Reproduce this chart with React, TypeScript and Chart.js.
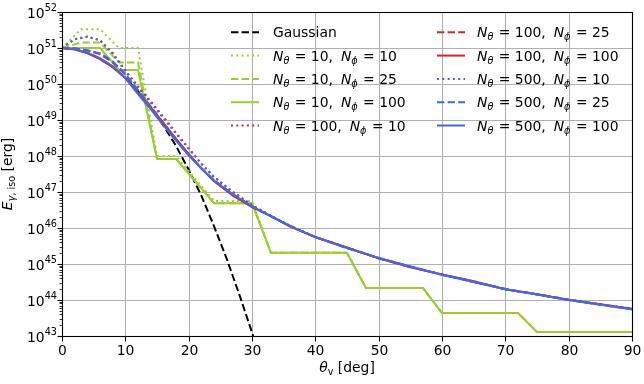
import React, { useEffect, useRef } from 'react';
import { Chart, registerables } from 'chart.js';
Chart.register(...registerables);

// ---------------- data (values are log10 of E_iso in erg) ----------------
const THETA_GAUSS = [0, 2, 4, 6, 8, 10, 12, 14, 16, 18, 20, 22, 24, 26, 28, 30, 31];
const LOGE_GAUSS = [51.0, 50.97, 50.87, 50.7, 50.47, 50.17, 49.8, 49.35, 48.85, 48.28, 47.62, 46.9, 46.05, 45.15, 44.15, 43.1, 42.55];

const THETA_N10 = [0, 3, 6, 9, 12, 15, 18, 24, 30, 33, 45, 48, 57, 60, 72, 75, 90];
const LOGE_N10_P10 = [51.0, 51.52, 51.52, 51.0, 51.0, 48.0, 48.0, 46.75, 46.75, 45.31, 45.31, 44.33, 44.33, 43.64, 43.64, 43.11, 43.11];
const LOGE_N10_P25 = [51.0, 51.15, 51.15, 50.6, 50.6, 47.92, 47.92, 46.69, 46.69, 45.31, 45.31, 44.33, 44.33, 43.64, 43.64, 43.11, 43.11];
const LOGE_N10_P100 = [51.0, 51.0, 51.0, 50.39, 50.39, 47.92, 47.92, 46.69, 46.69, 45.31, 45.31, 44.33, 44.33, 43.64, 43.64, 43.11, 43.11];

const THETA_FINE = [0, 2, 4, 6, 8, 10, 12, 14, 16, 18, 20, 22, 24, 27, 30, 33, 36, 40, 45, 50, 55, 60, 65, 70, 75, 80, 85, 90];
const LOGE_N100_P10 = [51.0, 51.24, 51.31, 51.21, 50.86, 50.38, 49.94, 49.52, 49.09, 48.65, 48.22, 47.79, 47.42, 47.0, 46.63, 46.34, 46.05, 45.75, 45.46, 45.16, 44.91, 44.71, 44.52, 44.3, 44.16, 44.01, 43.88, 43.76];
const LOGE_N100_P25 = [51.0, 50.98, 50.93, 50.83, 50.6, 50.26, 49.82, 49.38, 48.92, 48.47, 48.05, 47.66, 47.31, 46.91, 46.59, 46.33, 46.05, 45.75, 45.45, 45.16, 44.92, 44.71, 44.51, 44.3, 44.16, 44.01, 43.88, 43.75];
const LOGE_N100_P100 = [51.0, 50.96, 50.85, 50.69, 50.47, 50.16, 49.76, 49.36, 48.92, 48.48, 48.06, 47.66, 47.3, 46.9, 46.58, 46.33, 46.04, 45.75, 45.46, 45.16, 44.91, 44.71, 44.52, 44.3, 44.16, 44.01, 43.88, 43.76];
const LOGE_N500_P10 = [51.0, 51.25, 51.32, 51.22, 50.85, 50.35, 49.9, 49.48, 49.05, 48.62, 48.2, 47.78, 47.42, 47.0, 46.64, 46.34, 46.07, 45.75, 45.45, 45.17, 44.93, 44.7, 44.5, 44.3, 44.15, 44.0, 43.87, 43.74];
const LOGE_N500_P25 = [51.0, 50.99, 50.94, 50.85, 50.63, 50.28, 49.82, 49.35, 48.88, 48.44, 48.03, 47.66, 47.33, 46.94, 46.61, 46.33, 46.06, 45.75, 45.44, 45.17, 44.93, 44.7, 44.5, 44.31, 44.15, 44.0, 43.87, 43.74];
const LOGE_N500_P100 = [51.0, 50.97, 50.87, 50.72, 50.5, 50.17, 49.72, 49.3, 48.86, 48.43, 48.02, 47.65, 47.32, 46.93, 46.6, 46.32, 46.06, 45.74, 45.44, 45.17, 44.93, 44.7, 44.5, 44.3, 44.15, 44.0, 43.87, 43.74];

const X_TICKS = [0, 10, 20, 30, 40, 50, 60, 70, 80, 90];
const Y_DECADES = [43, 44, 45, 46, 47, 48, 49, 50, 51, 52];

const PHI_VALUES = ['10', '25', '100'];

// ---------------- styles ----------------
const GREEN = '#9acd32';
const RED = '#d62728';
const BLUE = '#4169e1';
const LW = 2;
const DASHED = [7.4, 3.2];
const DOTTED = [2, 3.3];
const FAM = '"DejaVu Sans", sans-serif';
const REG = `13.9px ${FAM}`;
const ITA = `italic 13.9px ${FAM}`;
const SUB = `9.7px ${FAM}`;
const SUBI = `italic 9.7px ${FAM}`;

type Part = { t: string; f: string; dy?: number; dx?: number };

function richWidth(ctx: CanvasRenderingContext2D, parts: Part[]) {
  let w = 0;
  for (const p of parts) {
    ctx.font = p.f;
    w += ctx.measureText(p.t).width + (p.dx || 0);
  }
  return w;
}

function drawRich(ctx: CanvasRenderingContext2D, parts: Part[], x: number, y: number, align: 'left' | 'center' | 'right') {
  const w = richWidth(ctx, parts);
  let cx = align === 'left' ? x : align === 'center' ? x - w / 2 : x - w;
  ctx.textAlign = 'left';
  ctx.textBaseline = 'alphabetic';
  for (const p of parts) {
    ctx.font = p.f;
    cx += p.dx || 0;
    ctx.fillText(p.t, cx, y + (p.dy || 0));
    cx += ctx.measureText(p.t).width;
  }
}

function nLabel(nt: string, np: string): Part[] {
  return [
    { t: 'N', f: ITA },
    { t: 'θ', f: SUBI, dy: 3 },
    { t: ' = ' + nt + ',', f: REG, dx: 1 },
    { t: 'N', f: ITA, dx: 8 },
    { t: 'ϕ', f: SUBI, dy: 3 },
    { t: ' = ' + np, f: REG, dx: 1 },
  ];
}

type Series = { label: Part[]; theta: number[]; logE: number[]; color: string; dash: number[] };

function buildSeries(): Series[] {
  const dashes = [DOTTED, DASHED, []];
  const n10 = [LOGE_N10_P10, LOGE_N10_P25, LOGE_N10_P100];
  const n100 = [LOGE_N100_P10, LOGE_N100_P25, LOGE_N100_P100];
  const n500 = [LOGE_N500_P10, LOGE_N500_P25, LOGE_N500_P100];
  const s: Series[] = [
    { label: [{ t: 'Gaussian', f: REG }], theta: THETA_GAUSS, logE: LOGE_GAUSS, color: '#000000', dash: DASHED },
  ];
  PHI_VALUES.forEach((p, i) => s.push({ label: nLabel('10', p), theta: THETA_N10, logE: n10[i], color: GREEN, dash: dashes[i] }));
  PHI_VALUES.forEach((p, i) => s.push({ label: nLabel('100', p), theta: THETA_FINE, logE: n100[i], color: RED, dash: dashes[i] }));
  PHI_VALUES.forEach((p, i) => s.push({ label: nLabel('500', p), theta: THETA_FINE, logE: n500[i], color: BLUE, dash: dashes[i] }));
  return s;
}

export default function App() {
  const ref = useRef<HTMLCanvasElement | null>(null);

  useEffect(() => {
    const series = buildSeries();
    const datasets = series.map((s, i) => ({
      label: 's' + i,
      data: s.theta.map((t, j) => ({ x: t, y: Math.pow(10, s.logE[j]) })),
      borderColor: s.color,
      backgroundColor: s.color,
      borderWidth: LW,
      borderDash: s.dash,
      borderJoinStyle: 'round' as const,
      pointRadius: 0,
      tension: 0,
      fill: false,
      order: 100 - i,
    }));

    const plugin = {
      id: 'mpl',
      beforeDatasetsDraw(chart: any) {
        const { ctx, chartArea: a, scales } = chart;
        ctx.save();
        ctx.strokeStyle = '#b0b0b0';
        ctx.lineWidth = 1.1;
        for (const v of X_TICKS) {
          const px = Math.round(scales.x.getPixelForValue(v)) + 0.5;
          ctx.beginPath();
          ctx.moveTo(px, a.top);
          ctx.lineTo(px, a.bottom);
          ctx.stroke();
        }
        for (const e of Y_DECADES) {
          const py = Math.round(scales.y.getPixelForValue(Math.pow(10, e))) + 0.5;
          ctx.beginPath();
          ctx.moveTo(a.left, py);
          ctx.lineTo(a.right, py);
          ctx.stroke();
        }
        ctx.restore();
      },
      afterDraw(chart: any) {
        const { ctx, chartArea: a, scales } = chart;
        const L = Math.round(a.left) + 0.5;
        const R = Math.round(a.right) + 0.5;
        const T = Math.round(a.top) + 0.5;
        const B = Math.round(a.bottom) + 0.5;
        ctx.save();
        // spines
        ctx.strokeStyle = '#000';
        ctx.lineWidth = 1.1;
        ctx.strokeRect(L, T, R - L, B - T);
        // x ticks
        ctx.fillStyle = '#000';
        for (const v of X_TICKS) {
          const px = Math.round(scales.x.getPixelForValue(v)) + 0.5;
          ctx.beginPath();
          ctx.moveTo(px, B);
          ctx.lineTo(px, B + 5);
          ctx.stroke();
          ctx.font = REG;
          ctx.textAlign = 'center';
          ctx.textBaseline = 'alphabetic';
          ctx.fillText(String(v), px, 354.5);
        }
        // y ticks
        for (const e of Y_DECADES) {
          const py = Math.round(scales.y.getPixelForValue(Math.pow(10, e))) + 0.5;
          ctx.lineWidth = 1.1;
          ctx.beginPath();
          ctx.moveTo(L - 5, py);
          ctx.lineTo(L, py);
          ctx.stroke();
          drawRich(ctx, [{ t: '10', f: REG }, { t: String(e), f: SUB, dy: -6.5 }], 57, py + 5, 'right');
          if (e < 52) {
            ctx.lineWidth = 0.8;
            for (let k = 2; k <= 9; k++) {
              const pm = Math.round(scales.y.getPixelForValue(k * Math.pow(10, e))) + 0.5;
              ctx.beginPath();
              ctx.moveTo(L - 3, pm);
              ctx.lineTo(L, pm);
              ctx.stroke();
            }
          }
        }
        // axis titles
        drawRich(ctx, [
          { t: 'θ', f: ITA },
          { t: 'v', f: SUB, dy: 3 },
          { t: ' [deg]', f: REG },
        ], (a.left + a.right) / 2, 372, 'center');
        ctx.save();
        ctx.translate(12, (a.top + a.bottom) / 2);
        ctx.rotate(-Math.PI / 2);
        drawRich(ctx, [
          { t: 'E', f: ITA },
          { t: 'γ', f: SUBI, dy: 3 },
          { t: ', iso', f: SUB, dy: 3 },
          { t: ' [erg]', f: REG },
        ], 0, 0, 'center');
        ctx.restore();
        // legend
        const cols = [{ hx: 231, tx: 273 }, { hx: 437, tx: 477 }];
        series.forEach((s, i) => {
          const col = cols[Math.floor(i / 5)];
          const row = i % 5;
          const cy = 32.3 + row * 23.3;
          ctx.strokeStyle = s.color;
          ctx.lineWidth = LW;
          ctx.setLineDash(s.dash);
          ctx.beginPath();
          ctx.moveTo(col.hx, cy);
          ctx.lineTo(col.hx + 28, cy);
          ctx.stroke();
          ctx.setLineDash([]);
          ctx.fillStyle = '#000';
          drawRich(ctx, s.label, col.tx, cy + 5, 'left');
        });
        ctx.restore();
      },
    };

    const chart = new Chart(ref.current as HTMLCanvasElement, {
      type: 'line',
      data: { datasets },
      options: {
        animation: false,
        responsive: false,
        devicePixelRatio: 1,
        layout: { padding: { left: 0, top: 12, right: 12, bottom: 0 } },
        plugins: { legend: { display: false }, tooltip: { enabled: false } },
        scales: {
          x: {
            type: 'linear',
            min: 0,
            max: 90,
            ticks: { display: false, stepSize: 10 },
            grid: { display: false, drawTicks: false },
            border: { display: false },
            afterFit: (s: any) => { s.height = 48; },
          },
          y: {
            type: 'logarithmic',
            min: 1e43,
            max: 1e52,
            ticks: { display: false },
            grid: { display: false, drawTicks: false },
            border: { display: false },
            afterFit: (s: any) => { s.width = 62; },
          },
        },
      } as any,
      plugins: [plugin],
    });
    return () => chart.destroy();
  }, []);

  return (
    <div style={{ position: 'fixed', left: 0, top: 0, width: 644, height: 384, background: '#fff' }}>
      <canvas ref={ref} width={644} height={384} style={{ width: 644, height: 384, display: 'block' }} />
    </div>
  );
}
